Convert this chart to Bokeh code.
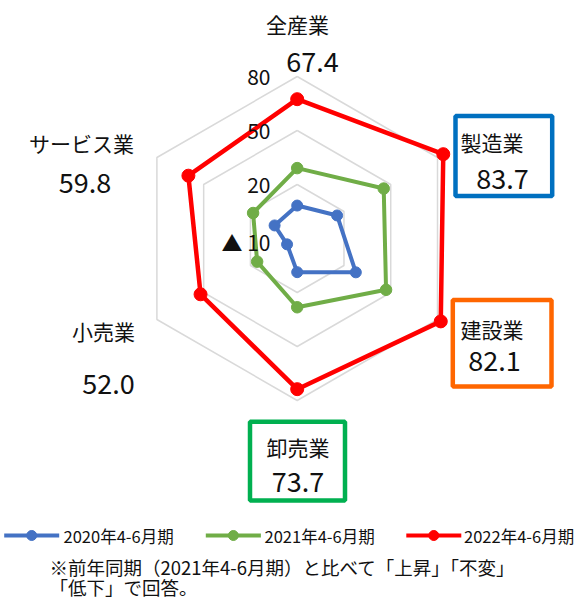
import math
from bokeh.plotting import figure
from bokeh.models import Label, Range1d
from bokeh.embed import file_html
from bokeh.resources import INLINE

# ---------------- data ----------------
categories = ["全産業", "製造業", "建設業", "卸売業", "小売業", "サービス業"]
series_names = ["2020年4-6月期", "2021年4-6月期", "2022年4-6月期"]
values_2020 = [8.3, 15.6, 27.6, 8.7, -3.5, 4.5]
values_2021 = [29.1, 45.5, 47.0, 28.2, 15.7, 18.3]
values_2022 = [67.4, 83.7, 82.1, 73.7, 52.0, 59.8]
ring_values = [-10, 20, 50, 80]
ring_labels = ["▲ 10", "20", "50", "80"]
note_lines = ["※前年同期（2021年4-6月期）と比べて「上昇」「不変」", "「低下」で回答。"]

# ---------------- styles / layout ----------------
series_colors = ["#4472C4", "#70AD47", "#FF0000"]
FONT = "Noto Sans CJK JP"
W, H = 575, 601
OFF = 0                         # page offset of the canvas
CX, CY = 296.7, 238.0          # page position of the radar centre
R_MIN = ring_values[0]
PX_PER_UNIT = 1.8


def X(sx):
    return sx - CX


def Y(sy):
    return CY - sy


def polar(v, i):
    ang = math.radians(90 - 60 * i)
    r = (v - R_MIN) * PX_PER_UNIT
    return r * math.cos(ang), r * math.sin(ang)


p = figure(width=W, height=H, output_backend="svg", toolbar_location=None,
           x_axis_type=None, y_axis_type=None, min_border=0,
           x_range=Range1d(OFF - CX, OFF + W - CX),
           y_range=Range1d(CY - (OFF + H), CY - OFF))
p.outline_line_color = None
p.background_fill_color = "white"
p.border_fill_color = "white"

# grid hexagons
for v in ring_values:
    if v == R_MIN:
        continue
    pts = [polar(v, i) for i in range(len(categories))]
    xs = [q[0] for q in pts] + [pts[0][0]]
    ys = [q[1] for q in pts] + [pts[0][1]]
    p.line(xs, ys, line_color="#D9D9D9", line_width=1.5)

# highlight boxes
boxes = [
    ("#0070C0", 455.0, 551.7, 115.5, 195.5),
    ("#FF6600", 452.3, 551.0, 299.5, 386.0),
    ("#00B050", 249.5, 344.5, 421.3, 500.0),
]
for col, l, r, t, b in boxes:
    p.quad(left=X(l), right=X(r), top=Y(t), bottom=Y(b),
           fill_color="white", line_color=col, line_width=4.5)

# series
all_series = [values_2020, values_2021, values_2022]
sizes = [11, 11.5, 13]
widths = [4, 4, 4.5]
for vals, col, sz, lw in zip(all_series, series_colors, sizes, widths):
    pts = [polar(v, i) for i, v in enumerate(vals)]
    xs = [q[0] for q in pts]
    ys = [q[1] for q in pts]
    p.line(xs + [xs[0]], ys + [ys[0]], line_color=col, line_width=lw)
    p.scatter(xs, ys, size=sz, fill_color=col, line_color=col, marker="circle")

# ring (tick) labels
for v, lab in zip(ring_values, ring_labels):
    r = (v - R_MIN) * PX_PER_UNIT
    p.add_layout(Label(x=X(270), y=r + (-3.5 if v == R_MIN else -0.5), text=lab,
                       text_align="right", text_baseline="middle",
                       text_font=FONT, text_font_size="21px", text_color="#111111"))

# category names and 2022 values
name_pos = [(297, 23), (491.5, 141.5), (491.5, 328), (297.5, 446.5), (103, 330), (81, 142)]
val_pos = [(312, 61), (502, 178), (494, 360), (297.5, 481.5), (108, 383), (84.5, 182)]
for cat, v, (nx, ny), (vx, vy) in zip(categories, values_2022, name_pos, val_pos):
    p.add_layout(Label(x=X(nx), y=Y(ny), text=cat, text_align="center",
                       text_baseline="middle", text_font=FONT,
                       text_font_size="21px", text_color="#111111"))
    p.add_layout(Label(x=X(vx), y=Y(vy), text=f"{v:.1f}", text_align="center",
                       text_baseline="middle", text_font=FONT,
                       text_font_size="27px", text_color="#111111"))

# legend
legend_geom = [(3.7, 58.7, 63.0), (205.3, 260.4, 264.0), (405.8, 460.8, 463.5)]
LY = 535
for name, col, (x0, x1, tx) in zip(series_names, series_colors, legend_geom):
    p.line([X(x0), X(x1)], [Y(LY), Y(LY)], line_color=col, line_width=4)
    p.scatter([X((x0 + x1) / 2)], [Y(LY)], size=10, fill_color=col, line_color=col)
    p.add_layout(Label(x=X(tx), y=Y(LY), text=name, text_align="left",
                       text_baseline="middle", text_font=FONT,
                       text_font_size="16.5px", text_color="#111111"))

# note
for k, line in enumerate(note_lines):
    p.add_layout(Label(x=X(49), y=Y(566 + 20.5 * k), text=line, text_align="left",
                       text_baseline="middle", text_font=FONT,
                       text_font_size="18.5px", text_color="#111111"))

open("out.html", "w").write(file_html(p, INLINE))
